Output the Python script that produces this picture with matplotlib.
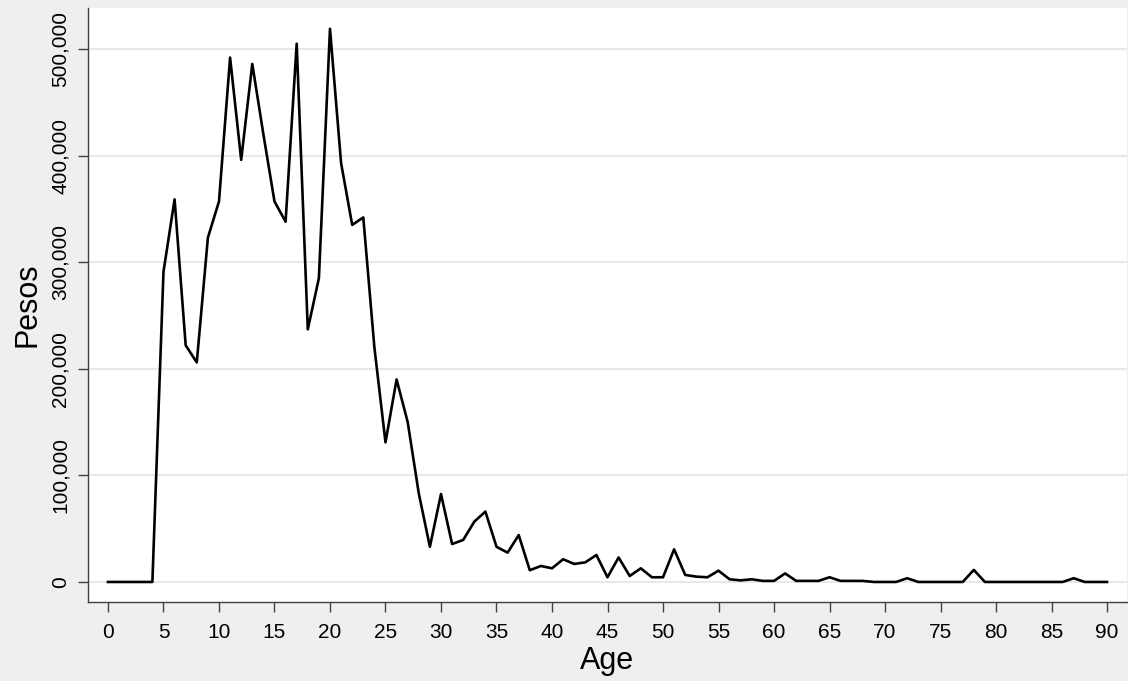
import matplotlib
matplotlib.use("Agg")
import matplotlib.pyplot as plt
from matplotlib.ticker import FuncFormatter

ages = list(range(0, 91))
pesos = [
    0, 0, 0, 0, 0,                                   # 0-4
    291000, 359000, 222000, 206000, 323000,          # 5-9
    357000, 492000, 396000, 486000, 420000,          # 10-14
    357000, 338000, 505000, 237000, 285000,          # 15-19
    519000, 393000, 335000, 342000, 220000,          # 20-24
    131000, 190000, 150000, 83000, 33000,            # 25-29
    82500, 35600, 39400, 56600, 66000,               # 30-34
    33000, 27500, 44000, 11000, 15000,               # 35-39
    12800, 21300, 16900, 18400, 25300,               # 40-44
    4400, 23000, 5600, 12800, 4400,                  # 45-49
    4400, 30600, 6600, 5000, 4400,                   # 50-54
    10600, 2500, 1500, 2500, 1000,                   # 55-59
    1000, 8000, 1000, 1000, 1000,                    # 60-64
    4400, 1000, 1000, 1000, 0,                       # 65-69
    0, 0, 3500, 0, 0,                                # 70-74
    0, 0, 0, 11300, 0,                               # 75-79
    0, 0, 0, 0, 0,                                   # 80-84
    0, 0, 3500, 0, 0,                                # 85-89
    0,                                               # 90
]
x_ticks = list(range(0, 91, 5))
y_ticks = [0, 100000, 200000, 300000, 400000, 500000]

plt.rcParams['font.family'] = ['Liberation Sans', 'DejaVu Sans']

bg = '#efefef'
fig = plt.figure(figsize=(11.28, 6.81), dpi=100, facecolor=bg)
ax = fig.add_axes([88/1128, 1 - 602/681, (1127-88)/1128, (602-8)/681])
ax.set_facecolor('white')

ax.plot(ages, pesos, color='black', linewidth=1.9, zorder=3)

ax.set_xlim(-1.8, 91.8)
ax.set_ylim(-18800, 538500)
ax.set_xticks(x_ticks)
ax.set_yticks(y_ticks)
ax.yaxis.set_major_formatter(FuncFormatter(lambda v, p: f"{int(v):,}"))

ax.grid(axis='y', color='#e6e6e6', linewidth=1.3, zorder=0)
ax.grid(axis='x', visible=False)

for s in ['top', 'right']:
    ax.spines[s].set_visible(False)
for s in ['left', 'bottom']:
    ax.spines[s].set_color('#404040')
    ax.spines[s].set_linewidth(1.0)

ax.tick_params(axis='both', direction='out', length=7, width=1.0, color='#404040',
               labelsize=15, labelcolor='black')
ax.tick_params(axis='x', pad=8)
ax.tick_params(axis='y', pad=6)
for lbl in ax.get_yticklabels():
    lbl.set_rotation(90)
    lbl.set_va('center')

ax.set_xlabel('Age', fontsize=22, labelpad=3)
ax.set_ylabel('Pesos', fontsize=22, labelpad=6)

fig.savefig('out.png', dpi=100, facecolor=bg)
